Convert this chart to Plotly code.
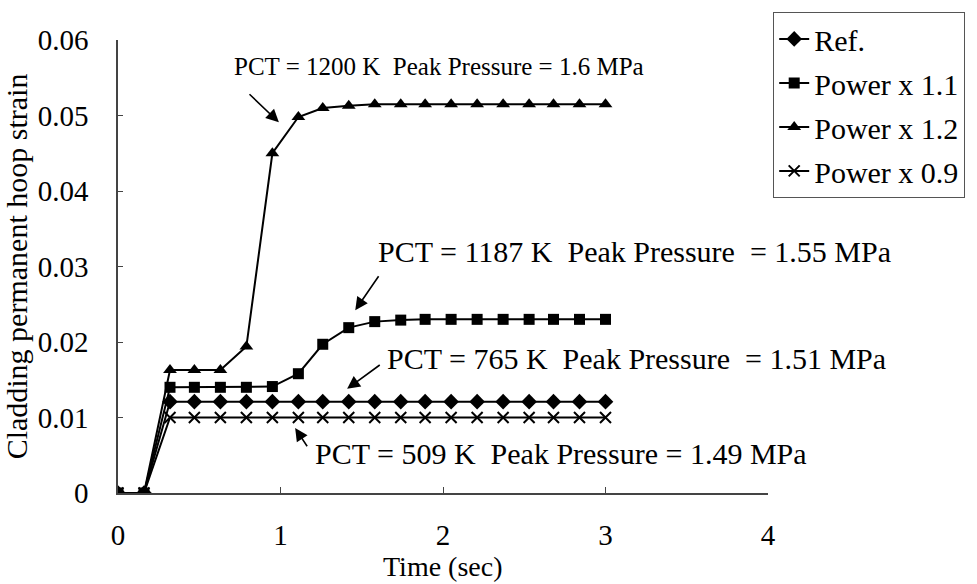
import plotly.graph_objects as go

# Time (sec)
time_s = [0, 0.16, 0.32, 0.47, 0.63, 0.79, 0.95, 1.11, 1.26, 1.42,
          1.58, 1.74, 1.89, 2.05, 2.21, 2.37, 2.53, 2.68, 2.84, 3.00]

# Cladding permanent hoop strain for each case
strain_ref = [0, 0, 0.0121, 0.0121, 0.0121, 0.0121, 0.0121, 0.0121, 0.0121, 0.0121,
              0.0121, 0.0121, 0.0121, 0.0121, 0.0121, 0.0121, 0.0121, 0.0121, 0.0121, 0.0121]
strain_p11 = [0, 0, 0.0140, 0.0140, 0.0140, 0.0140, 0.0141, 0.0158, 0.0197, 0.0219,
              0.0227, 0.0229, 0.0230, 0.0230, 0.0230, 0.0230, 0.0230, 0.0230, 0.0230, 0.0230]
strain_p12 = [0, 0, 0.0163, 0.0163, 0.0163, 0.0194, 0.0450, 0.0498, 0.0510, 0.0513,
              0.0515, 0.0515, 0.0515, 0.0515, 0.0515, 0.0515, 0.0515, 0.0515, 0.0515, 0.0515]
strain_p09 = [0, 0, 0.0100, 0.0100, 0.0100, 0.0100, 0.0100, 0.0100, 0.0100, 0.0100,
              0.0100, 0.0100, 0.0100, 0.0100, 0.0100, 0.0100, 0.0100, 0.0100, 0.0100, 0.0100]

series_names = ["Ref.", "Power x 1.1", "Power x 1.2", "Power x 0.9"]
series_values = [strain_ref, strain_p11, strain_p12, strain_p09]
series_symbols = ["diamond", "square", "triangle-up", "x-thin"]
series_sizes = [12, 11, 12, 11]

x_ticks = [0, 1, 2, 3, 4]
y_ticks = [0, 0.01, 0.02, 0.03, 0.04, 0.05, 0.06]
y_tick_text = ["0", "0.01", "0.02", "0.03", "0.04", "0.05", "0.06"]

# Case annotations: text, font size, text anchor (left, middle), arrow tail, arrow tip
NB = "\u00a0"
notes = [
    (f"PCT = 1200 K{NB}{NB}Peak Pressure = 1.6 MPa", 25, (0.70, 0.0565), (0.80, 0.0530), (0.99, 0.0491)),
    (f"PCT = 1187 K{NB}{NB}Peak Pressure{NB}{NB}= 1.55 MPa", 30, (1.59, 0.0320), (1.61, 0.0289), (1.46, 0.0242)),
    (f"PCT = 765 K{NB}{NB}Peak Pressure{NB}{NB}= 1.51 MPa", 30, (1.64, 0.0178), (1.62, 0.0171), (1.41, 0.0138)),
    (f"PCT = 509 K{NB}{NB}Peak Pressure = 1.49 MPa", 30, (1.20, 0.0052), (1.17, 0.0060), (1.09, 0.0086)),
]

FONT = "Liberation Serif, Times New Roman, serif"

fig = go.Figure()
for i, (name, vals, sym, size) in enumerate(zip(series_names, series_values, series_symbols, series_sizes)):
    fig.add_trace(go.Scatter(
        x=time_s, y=vals, name=name, mode="lines+markers",
        legendgroup=f"g{i}",
        line=dict(color="black", width=2),
        marker=dict(symbol=sym, size=size, color="black",
                    line=dict(color="black", width=2 if sym == "x-thin" else 0)),
    ))

annotations = []
for text, fsize, (tx, ty), (ax, ay), (hx, hy) in notes:
    annotations.append(dict(
        x=tx, y=ty, xref="x", yref="y", text=text, showarrow=False,
        xanchor="left", yanchor="middle",
        font=dict(family=FONT, size=fsize, color="black"),
    ))
    annotations.append(dict(
        x=hx, y=hy, ax=ax, ay=ay, xref="x", yref="y", axref="x", ayref="y",
        text="", showarrow=True, arrowhead=2, arrowsize=1.6, arrowwidth=1.6,
        arrowcolor="black", standoff=0,
    ))

# x-axis title sits tight under the tick labels
annotations.append(dict(
    x=0.5, y=-0.162, xref="paper", yref="paper", text="Time (sec)",
    showarrow=False, xanchor="center", yanchor="middle",
    font=dict(family=FONT, size=28, color="black"),
))

fig.update_layout(
    width=977, height=584,
    margin=dict(l=118, r=203, t=34, b=91),
    paper_bgcolor="white", plot_bgcolor="white",
    font=dict(family=FONT, size=29, color="black"),
    showlegend=True,
    legend=dict(
        x=1.008, y=1.062, xanchor="left", yanchor="top",
        bordercolor="#555555", borderwidth=1, bgcolor="white",
        font=dict(family=FONT, size=30, color="black"),
        tracegroupgap=2, itemwidth=30,
    ),
    annotations=annotations,
)

fig.update_xaxes(
    range=[0, 4], tickvals=x_ticks,
    showline=True, linecolor="#444444", linewidth=1.5,
    ticks="inside", ticklen=6, tickcolor="#444444",
    showgrid=False, zeroline=False,
    tickfont=dict(family=FONT, size=29),
    ticklabelstandoff=15,
)
fig.update_yaxes(
    range=[0, 0.06], tickvals=y_ticks, ticktext=y_tick_text,
    showline=True, linecolor="#444444", linewidth=1.5,
    ticks="inside", ticklen=5, tickcolor="#444444",
    showgrid=False, zeroline=False,
    title=dict(text="Cladding permanent hoop strain", standoff=2, font=dict(family=FONT, size=30)),
    tickfont=dict(family=FONT, size=29),
    ticklabelstandoff=22,
)

fig.write_html("out.html")
